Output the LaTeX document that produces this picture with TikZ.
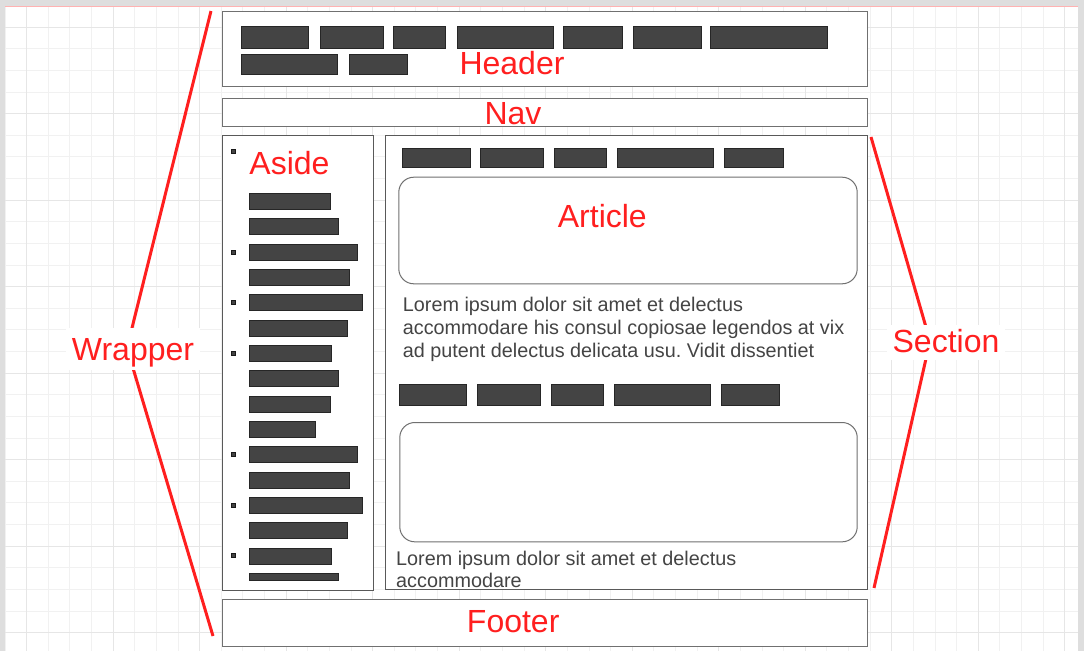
\documentclass[tikz,border=0pt]{standalone}
\usepackage{fontspec}
\setmainfont{Liberation Sans}
\frenchspacing
\definecolor{barc}{HTML}{444444}
\definecolor{txtc}{HTML}{444444}
\definecolor{lblred}{HTML}{FF1F1F}
\definecolor{gridminor}{HTML}{F1F1F1}
\definecolor{gridmajor}{HTML}{E6E6E6}
\definecolor{boxc}{HTML}{707070}
\definecolor{bandc}{HTML}{DEDEDE}
\tikzset{
  box/.style={draw=boxc, fill=white, line width=1pt, inner sep=0pt, anchor=north west},
  rbox/.style={box, rounded corners=15pt},
  barbox/.style={draw=black!85, fill=barc, line width=0.6pt, inner sep=0pt, anchor=north west},
  bulletbox/.style={draw=black!90, fill=barc, line width=0.4pt, minimum size=4pt, inner sep=0pt},
  lbl/.style={text=lblred, font=\fontsize{32}{38}\selectfont, inner sep=0pt, anchor=base},
  lorem/.style={text=txtc, font=\fontsize{19.8}{22}\selectfont, inner sep=0pt, anchor=base west},
  redline/.style={draw=lblred, line width=3pt}
}
\begin{document}
\begin{tikzpicture}[x=1pt,y=-1pt]
\useasboundingbox (0,0) rectangle (1084,651);
\fill[white] (0,0) rectangle (1084,651);
% grid
\foreach \k in {0,...,50} { \draw[gridminor, line width=1pt] ({5+21.63*\k},0) -- ++(0,651); }
\foreach \k in {0,...,30} { \draw[gridminor, line width=1pt] (0,{5.5+21.63*\k}) -- ++(1084,0); }
\foreach \k in {1,5,...,49} { \draw[gridmajor, line width=1pt] ({5+21.63*\k},0) -- ++(0,651); }
\foreach \k in {1,5,...,29} { \draw[gridmajor, line width=1pt] (0,{5.5+21.63*\k}) -- ++(1084,0); }
% side bands
\fill[bandc] (0,0) rectangle (1084,6);
\fill[bandc] (0,0) rectangle (5,651);
\fill[bandc] (1078,0) rectangle (1084,651);
\draw[red!30, line width=1pt] (5,6) -- (1078,6);

% main boxes
\node[box, minimum width=645pt, minimum height=75pt] (header) at (222,11) {};
\node[box, minimum width=645pt, minimum height=28pt] (nav) at (222,98) {};
\node[box, draw=black!65, minimum width=151pt, minimum height=455pt] (aside) at (222,135) {};
\node[box, draw=black!65, minimum width=482pt, minimum height=454pt] (section) at (385,135) {};
\node[box, minimum width=645pt, minimum height=47pt] (footer) at (222,599) {};
\node[rbox, minimum width=458.4pt, minimum height=106.6pt] (article1) at (398.3,176.7) {};
\node[rbox, minimum width=457.4pt, minimum height=119.3pt] (article2) at (399.3,422) {};

% header bars
\foreach \a/\b [count=\i, evaluate=\b as \w using \b-\a] in {241/308,320/383,393/445,457/553,563/622,633/701,710/827}
  { \node[barbox, minimum width=\w pt, minimum height=22pt] (hA\i) at (\a,26) {}; }
\foreach \a/\b [count=\i, evaluate=\b as \w using \b-\a] in {241/337,349/407}
  { \node[barbox, minimum width=\w pt, minimum height=20pt] (hB\i) at (\a,54) {}; }
% section bars
\foreach \a/\b [count=\i, evaluate=\b as \w using \b-\a] in {401.5/469.5,480/543,553.5/605.5,616.5/712.5,724/782.5}
  { \node[barbox, minimum width=\w pt, minimum height=19pt] (sA\i) at (\a,147.5) {}; }
\foreach \a/\b [count=\i, evaluate=\b as \w using \b-\a] in {399/466,476.5/539.5,551/603,613.5/709.5,720.5/778.5}
  { \node[barbox, minimum width=\w pt, minimum height=21.5pt] (sB\i) at (\a,383.5) {}; }
% aside bars
\foreach \w [count=\i, evaluate=\i as \yy using 193+25.33*(\i-1)] in {80.7,89,108,100,113.3,98,81.7,89,80.7,66.3,108,100,113.3,98,81.7}
  { \node[barbox, minimum width=\w pt, minimum height=16pt] (ab\i) at (249,\yy) {}; }
\node[barbox, minimum width=89pt, minimum height=7pt] (ab16) at (249,573) {};
% bullets
\foreach \yy [count=\i] in {150.7,251.7,302,352.7,453.7,504.7,555.3}
  { \node[bulletbox] (bul\i) at (233,\yy) {}; }

% labels in boxes
\node[lbl] (hdrlbl) at (512,74) {Header};
\node[lbl] (navlbl) at (513,124) {Nav};
\node[lbl] (asidelbl) at (289.5,174) {Aside};
\node[lbl] (artlbl) at (602.3,227.7) {Article};
\node[lbl] (footlbl) at (513.2,632.3) {Footer};

% lorem text
\node[lorem] (l1a) at (402.7,311.7) {Lorem ipsum dolor sit amet et delectus};
\node[lorem] (l1b) at (402.7,334.3) {accommodare his consul copiosae legendos at vix};
\node[lorem] (l1c) at (402.7,357) {ad putent delectus delicata usu. Vidit dissentiet};
\node[lorem] (l2a) at (396,565) {Lorem ipsum dolor sit amet et delectus};
\node[lorem] (l2b) at (396,587.5) {accommodare};

% wrapper callout
\coordinate (wtop) at (211,11);
\coordinate (wbot) at (213,636);
\coordinate (wc) at (127,348);
\draw[redline] (wtop) -- (wc) -- (wbot);
\node[lbl, fill=white, inner xsep=6pt, text height=32pt, text depth=10pt] (wraplbl) at (133,360) {Wrapper};
% section callout
\coordinate (stop) at (871,137);
\coordinate (sbot) at (874,588);
\coordinate (sc) at (930,341);
\draw[redline] (stop) -- (sc) -- (sbot);
\node[lbl, fill=white, inner xsep=6pt, text height=27pt, text depth=8pt] (seclbl) at (946,352) {Section};
\end{tikzpicture}
\end{document}
